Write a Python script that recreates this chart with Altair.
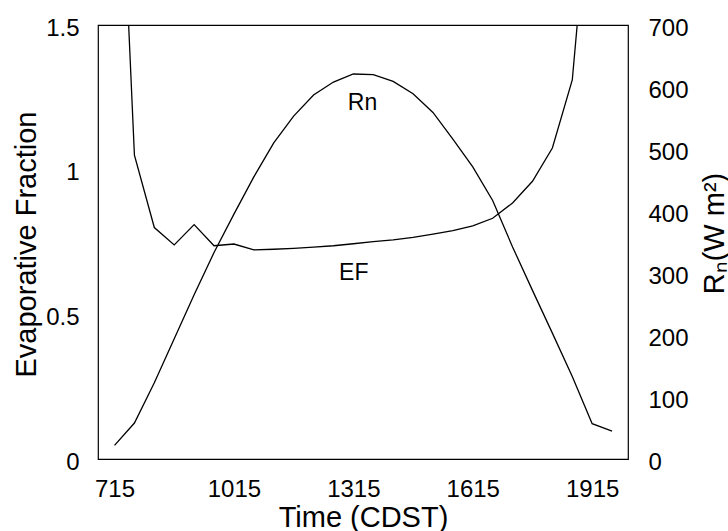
import altair as alt
import pandas as pd

# Half-hourly observation times (decimal hours, CDST)
hours = [7.25, 7.75, 8.25, 8.75, 9.25, 9.75, 10.25, 10.75, 11.25, 11.75,
         12.25, 12.75, 13.25, 13.75, 14.25, 14.75, 15.25, 15.75, 16.25,
         16.75, 17.25, 17.75, 18.25, 18.75, 19.25, 19.75]

# Net radiation (W m-2)
rn_values = [22, 58, 123, 194, 265, 333, 395, 455, 510, 553,
             587, 608, 621, 620, 609, 589, 559, 516, 471,
             417, 342, 272, 203, 133, 57, 45]

# Evaporative fraction (runs off the top of the axis at both ends of the day)
ef_values = [2.6, 1.05, 0.80, 0.74, 0.81, 0.737, 0.743, 0.723, 0.725, 0.728,
             0.732, 0.737, 0.744, 0.751, 0.757, 0.766, 0.777, 0.789, 0.806,
             0.832, 0.885, 0.96, 1.075, 1.31, 2.08]

x_ticks = [7.25, 10.25, 13.25, 16.25, 19.25]
ef_ticks = [0, 0.5, 1, 1.5]
rn_ticks = [0, 100, 200, 300, 400, 500, 600, 700]

FONT = "Liberation Sans"

rn_df = pd.DataFrame({"time": hours, "rn": rn_values})
ef_df = pd.DataFrame({"time": hours[:len(ef_values)], "ef": ef_values})
rn_label = pd.DataFrame({"time": [13.48], "rn": [574], "label": ["Rn"]})
ef_label = pd.DataFrame({"time": [13.26], "ef": [0.644], "label": ["EF"]})

x_enc = alt.X(
    "time:Q",
    scale=alt.Scale(domain=[6.835, 20.15], nice=False, zero=False),
    axis=alt.Axis(
        values=x_ticks,
        labelExpr="floor(datum.value) * 100 + round((datum.value - floor(datum.value)) * 60)",
        title="Time (CDST)",
        labelPadding=18,
        titleBaseline="alphabetic",
        titleY=67,
    ),
)

ef_axis = alt.Axis(
    values=ef_ticks,
    labelExpr="'' + datum.value",
    title="Evaporative Fraction",
    orient="left",
    labelPadding=19,
    labelBaseline="middle",
    labelOffset=3,
    titleAngle=270,
    titleBaseline="alphabetic",
    titleX=-63,
    titleY=219,
)

rn_axis = alt.Axis(
    values=rn_ticks,
    title="Rₙ(W m²)",
    orient="right",
    labelPadding=20,
    labelBaseline="middle",
    labelOffset=3,
    titleAngle=270,
    titleBaseline="alphabetic",
    titleX=95,
    titleY=208,
)

ef_y = alt.Y("ef:Q", scale=alt.Scale(domain=[0, 1.5], nice=False), axis=ef_axis)
rn_y = alt.Y("rn:Q", scale=alt.Scale(domain=[0, 700], nice=False), axis=rn_axis)

ef_line = alt.Chart(ef_df).mark_line(color="black", strokeWidth=1.3, clip=True).encode(
    x=x_enc, y=ef_y
)
ef_text = alt.Chart(ef_label).mark_text(
    font=FONT, fontSize=23, color="black", baseline="middle", align="center"
).encode(x=x_enc, y=ef_y, text="label:N")

rn_line = alt.Chart(rn_df).mark_line(color="black", strokeWidth=1.3, clip=True).encode(
    x=x_enc, y=rn_y
)
rn_text = alt.Chart(rn_label).mark_text(
    font=FONT, fontSize=23, color="black", baseline="middle", align="center"
).encode(x=x_enc, y=rn_y, text="label:N")

chart = (
    alt.layer(alt.layer(ef_line, ef_text), alt.layer(rn_line, rn_text))
    .resolve_scale(y="independent")
    .properties(
        width=530,
        height=434,
        autosize=alt.AutoSizeParams(type="none"),
        padding={"left": 98, "top": 25, "right": 100, "bottom": 72},
        background="white",
    )
    .configure_view(stroke="black", strokeWidth=1.2)
    .configure_axis(
        domain=False,
        ticks=False,
        grid=False,
        labelFont=FONT,
        labelFontSize=24,
        labelColor="black",
        titleFont=FONT,
        titleFontSize=29,
        titleFontWeight="normal",
        titleColor="black",
    )
)

chart.save("out.html", embed_options={"renderer": "svg", "actions": False})
